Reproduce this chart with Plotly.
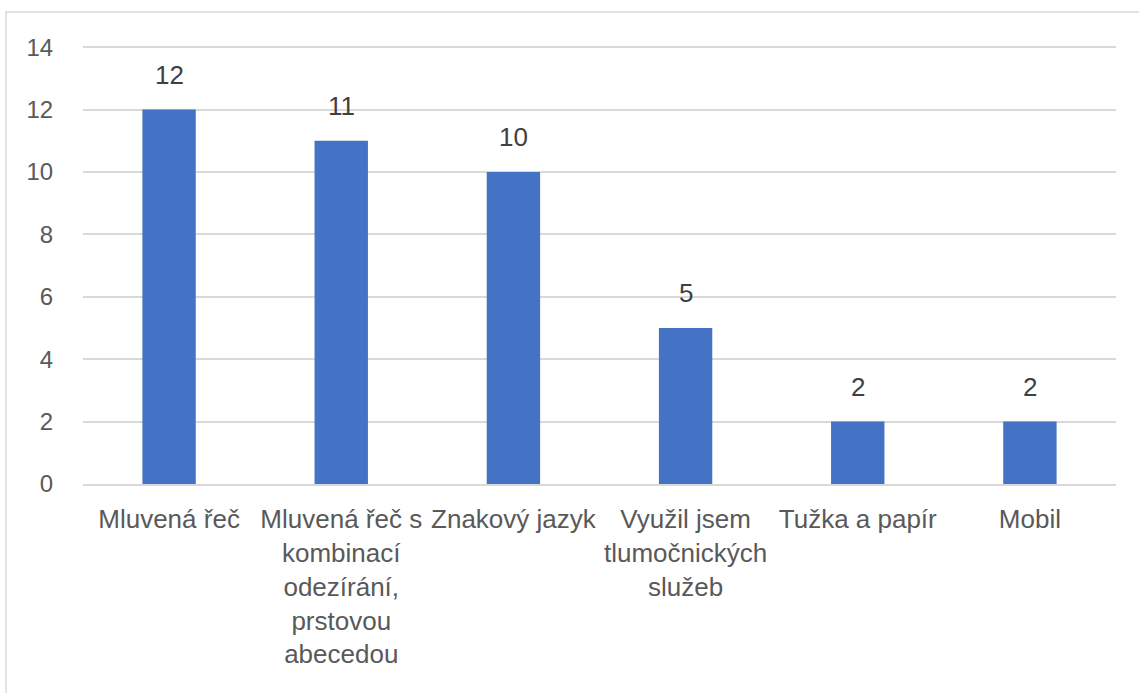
import plotly.graph_objects as go

categories = [
    "Mluvená řeč",
    "Mluvená řeč s<br>kombinací<br>odezírání,<br>prstovou<br>abecedou",
    "Znakový jazyk",
    "Využil jsem<br>tlumočnických<br>služeb",
    "Tužka a papír",
    "Mobil",
]
values = [12, 11, 10, 5, 2, 2]
y_ticks = [0, 2, 4, 6, 8, 10, 12, 14]

FONT = "Liberation Sans"
fig = go.Figure()
fig.add_trace(go.Bar(
    x=categories, y=values,
    marker=dict(color="#4472C4", line=dict(width=0)),
    width=0.31,
    hoverinfo="x+y",
))

for c, v in zip(categories, values):
    fig.add_annotation(x=c, y=v, text=str(v), showarrow=False,
                       yanchor="bottom", yshift=18,
                       font=dict(family=FONT, size=26, color="#404040"))

fig.add_shape(type="rect", xref="paper", yref="paper",
              x0=-0.0745, x1=1.03, y0=-0.5, y1=1.0725,
              line=dict(color="#D9D9D9", width=1.5), layer="below")

fig.update_layout(
    width=1139, height=693,
    margin=dict(l=83, r=23, t=44, b=209),
    paper_bgcolor="white", plot_bgcolor="white",
    showlegend=False,
    font=dict(family=FONT, size=26, color="#595959"),
    xaxis=dict(showgrid=False, showline=True, linecolor="#D9D9D9", linewidth=2,
               ticks="outside", ticklen=11, tickcolor="rgba(0,0,0,0)",
               tickangle=0, tickfont=dict(family=FONT, size=26, color="#595959")),
    yaxis=dict(range=[0, 14.1], tickvals=y_ticks, showgrid=True, gridcolor="#D9D9D9",
               gridwidth=2, zeroline=False, showline=False,
               ticks="outside", ticklen=24, tickcolor="rgba(0,0,0,0)",
               tickfont=dict(family=FONT, size=24, color="#595959")),
)

fig.write_html("out.html", config={"displayModeBar": False},
               post_script="document.body.style.margin='0';")
